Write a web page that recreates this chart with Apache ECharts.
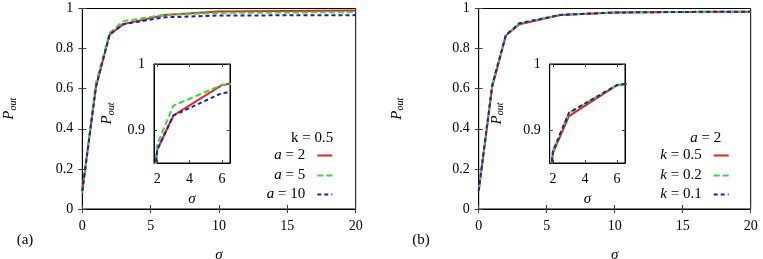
<!DOCTYPE html>
<html>
<head>
<meta charset="utf-8">
<script src="https://cdn.jsdelivr.net/npm/echarts@6/dist/echarts.min.js"></script>
<style>html,body{margin:0;padding:0;background:#fff}#c{width:763px;height:259px}</style>
</head>
<body>
<div id="c"></div>
<script>
// ---- data ----
const sigma = [0, 1, 2, 3, 6, 10, 15, 20];
// panel (a): k = 0.5
const a2  = [0.09, 0.61, 0.870, 0.922, 0.968, 0.985, 0.988, 0.990];
const a5  = [0.08, 0.63, 0.878, 0.937, 0.968, 0.978, 0.980, 0.982];
const a10 = [0.09, 0.61, 0.870, 0.922, 0.956, 0.965, 0.966, 0.967];
// panel (b): a = 2
const k05 = [0.09, 0.61, 0.865, 0.921, 0.968, 0.980, 0.983, 0.984];
const k02 = [0.09, 0.62, 0.868, 0.926, 0.968, 0.980, 0.983, 0.984];
const k01 = [0.09, 0.62, 0.868, 0.926, 0.968, 0.980, 0.983, 0.984];
const mainXTicks = [0, 5, 10, 15, 20];
const mainYTicks = [0, 0.2, 0.4, 0.6, 0.8, 1];
const insetXTicks = [2, 4, 6];
const insetYTicks = [0.9, 1];
const namesA = ['a = 2', 'a = 5', 'a = 10'];
const namesB = ['k = 0.5', 'k = 0.2', 'k = 0.1'];

// ---- styles ----
const FF = '"Liberation Serif", "DejaVu Serif", serif';
const RED = '#e3231f', GREEN = '#3ad63a', BLUE = '#1f1fae';
const dashG = [6, 3], dashB = [4, 3];

const chart = echarts.init(document.getElementById('c'), null, {renderer: 'canvas'});

const grids = [
  {left: 82.3, top: 8.5, width: 273.4, height: 200.5},
  {left: 478.7, top: 8.5, width: 272, height: 200.5},
  {left: 154, top: 64, width: 76, height: 99},
  {left: 549.7, top: 64, width: 75.3, height: 99}
].map(g => Object.assign({show: true, backgroundColor: '#fff', borderColor: '#000', borderWidth: 1, z: 0,
  containLabel: false, outerBoundsMode: 'none'}, g));

const xAxes = [], yAxes = [];
const lbl = {fontFamily: FF, fontSize: 14, color: '#000'};
const yNameStyle = {rich: {p: {fontFamily: FF, fontSize: 15, fontStyle: 'italic', color: '#000', lineHeight: 18}, s: {fontFamily: FF, fontSize: 10, fontStyle: 'italic', color: '#000', verticalAlign: 'bottom', lineHeight: 12}}};
function mainAxes(gi, yNameGap) {
  xAxes.push({type: 'value', gridIndex: gi, min: 0, max: 20, interval: 5, position: 'bottom',
    axisLine: {lineStyle: {color: '#000'}}, axisTick: {inside: true, length: 4, lineStyle: {color: '#444'}},
    axisLabel: Object.assign({margin: 10}, lbl), splitLine: {show: false},
    name: 'σ', nameLocation: 'middle', nameGap: 39, nameTextStyle: {fontFamily: FF, fontSize: 15, fontStyle: 'italic', color: '#000'}});
  xAxes.push({type: 'value', gridIndex: gi, min: 0, max: 20, interval: 5, position: 'top',
    axisLine: {lineStyle: {color: '#000'}}, axisTick: {inside: true, length: 4, lineStyle: {color: '#444'}},
    axisLabel: {show: false}, splitLine: {show: false}});
  yAxes.push({type: 'value', gridIndex: gi, min: 0, max: 1, interval: 0.2, position: 'left',
    axisLine: {show: true, lineStyle: {color: '#000'}}, axisTick: {show: true, inside: true, length: 4, lineStyle: {color: '#444'}},
    axisLabel: Object.assign({margin: 9}, lbl), splitLine: {show: false},
    name: '{p|P}{s|out}', nameLocation: 'middle', nameGap: yNameGap, nameRotate: 90, nameTextStyle: yNameStyle});
  yAxes.push({type: 'value', gridIndex: gi, min: 0, max: 1, interval: 0.2, position: 'right',
    axisLine: {show: true, lineStyle: {color: '#000'}}, axisTick: {show: true, inside: true, length: 4, lineStyle: {color: '#444'}},
    axisLabel: {show: false}, splitLine: {show: false}});
}
function insetAxes(gi, yNameGap) {
  xAxes.push({type: 'value', gridIndex: gi, min: 1.8, max: 6.5, position: 'bottom',
    axisLine: {lineStyle: {color: '#000'}}, axisTick: {inside: true, length: 3, customValues: insetXTicks, lineStyle: {color: '#444'}},
    axisLabel: Object.assign({margin: 9, customValues: insetXTicks}, lbl), splitLine: {show: false},
    name: 'σ', nameLocation: 'middle', nameGap: 29, nameTextStyle: {fontFamily: FF, fontSize: 15, fontStyle: 'italic', color: '#000'}});
  xAxes.push({type: 'value', gridIndex: gi, min: 1.8, max: 6.5, position: 'top',
    axisLine: {lineStyle: {color: '#000'}}, axisTick: {inside: true, length: 3, customValues: insetXTicks, lineStyle: {color: '#444'}},
    axisLabel: {show: false}, splitLine: {show: false}});
  yAxes.push({type: 'value', gridIndex: gi, min: 0.85, max: 1, position: 'left',
    axisLine: {show: true, lineStyle: {color: '#000'}}, axisTick: {show: true, inside: true, length: 3, customValues: insetYTicks, lineStyle: {color: '#444'}},
    axisLabel: Object.assign({margin: 9, customValues: insetYTicks}, lbl), splitLine: {show: false},
    name: '{p|P}{s|out}', nameLocation: 'middle', nameGap: yNameGap, nameRotate: 90, nameTextStyle: yNameStyle});
  yAxes.push({type: 'value', gridIndex: gi, min: 0.85, max: 1, position: 'right',
    axisLine: {show: true, lineStyle: {color: '#000'}}, axisTick: {show: true, inside: true, length: 3, customValues: insetYTicks, lineStyle: {color: '#444'}},
    axisLabel: {show: false}, splitLine: {show: false}});
}
mainAxes(0, 64);
mainAxes(1, 73);
insetAxes(2, 38);
insetAxes(3, 44);

function pairs(xs, ys) { return xs.map((x, i) => [x, ys[i]]); }
function line(name, ys, color, dash, xi, yi) {
  return {type: 'line', name: name, xAxisIndex: xi, yAxisIndex: yi, data: pairs(sigma, ys),
    symbol: 'none', clip: true, animation: false,
    lineStyle: {color: color, width: 2, type: dash || 'solid'}, itemStyle: {color: color}};
}
const series = [];
[[0, 0], [4, 4]].forEach(([xi, yi]) => {
  series.push(line(namesA[0], a2, RED, null, xi, yi));
  series.push(line(namesA[1], a5, GREEN, dashG, xi, yi));
  series.push(line(namesA[2], a10, BLUE, dashB, xi, yi));
});
[[2, 2], [6, 6]].forEach(([xi, yi]) => {
  series.push(line(namesB[0], k05, RED, null, xi, yi));
  series.push(line(namesB[1], k02, GREEN, dashG, xi, yi));
  series.push(line(namesB[2], k01, BLUE, dashB, xi, yi));
});

const legendRich = {
  i: {fontFamily: FF, fontSize: 15, fontStyle: 'italic', color: '#000'},
  n: {fontFamily: FF, fontSize: 15, color: '#000', padding: [0, 7, 0, 0]}
};
function legendItem(name, right, yc) {
  return {data: [name], orient: 'vertical', align: 'right', right: right, top: yc - 7, padding: 0,
    itemWidth: 15, itemHeight: 14, selectedMode: false,
    itemStyle: {opacity: 0, borderWidth: 0},
    formatter: n => n.replace(/^([ak])(.*)$/, '{i|$1}{n|$2}'),
    textStyle: {fontFamily: FF, fontSize: 15, color: '#000', rich: legendRich}};
}
const legendYs = [155, 175, 194];
const legends = [];
namesA.forEach((n, i) => legends.push(legendItem(n, 763 - 333.3, legendYs[i])));
namesB.forEach((n, i) => legends.push(legendItem(n, 763 - 729.7, legendYs[i])));

const graphic = [
  {type: 'text', x: 333.3, y: 137.7, z: 100, style: {text: 'k = 0.5', align: 'right', verticalAlign: 'middle', font: '15px ' + FF, fill: '#000'}},
  {type: 'text', x: 721.3, y: 137.7, z: 100, style: {text: '{i|a} = 2', align: 'right', verticalAlign: 'middle', font: '15px ' + FF, fill: '#000', rich: {i: legendRich.i}}},
  {type: 'text', x: 25, y: 240, z: 100, style: {text: '(a)', align: 'center', verticalAlign: 'middle', font: '15px ' + FF, fill: '#000'}},
  {type: 'text', x: 421, y: 240, z: 100, style: {text: '(b)', align: 'center', verticalAlign: 'middle', font: '15px ' + FF, fill: '#000'}}
];

chart.setOption({
  animation: false,
  backgroundColor: '#fff',
  grid: grids,
  xAxis: xAxes,
  yAxis: yAxes,
  legend: legends,
  series: series,
  graphic: graphic
});
</script>
</body>
</html>
